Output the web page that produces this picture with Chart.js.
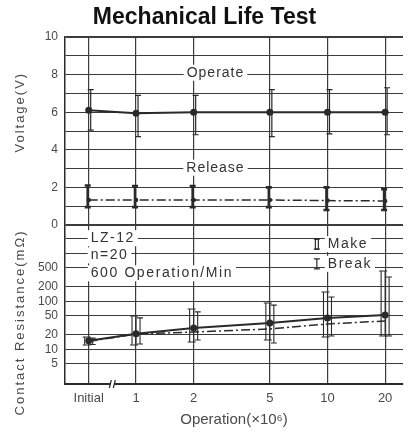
<!DOCTYPE html>
<html>
<head>
<meta charset="utf-8">
<title>Mechanical Life Test</title>
<script src="https://cdn.jsdelivr.net/npm/chart.js@4.4.0/dist/chart.umd.min.js"></script>
<style>
  body { margin: 0; background: #fff; }
  #chart { display: block; }
</style>
</head>
<body>
<canvas id="chart" width="409" height="434"></canvas>
<script>
// operations (x10^6) - "Initial" sits a bit left of 1 on the log axis
const opLabels = ['Initial', '1', '2', '5', '10', '20'];
const opValues = [0.566, 1, 2, 5, 10, 20];
const breakAt = 0.752;

// voltage (V)
const operateV = [6.1, 5.95, 6.0, 6.0, 6.0, 6.0];
const operateLow = [5.05, 4.7, 4.8, 4.7, 4.85, 4.8];
const operateHigh = [7.2, 6.9, 6.9, 7.2, 7.2, 7.3];
const releaseV = [1.33, 1.33, 1.33, 1.33, 1.3, 1.28];
const releaseLow = [0.95, 0.95, 0.95, 0.95, 0.8, 0.8];
const releaseHigh = [2.1, 2.07, 2.07, 2.0, 2.0, 1.9];

// contact resistance (mOhm)
const makeR = [15, 21, 27.7, 35, 44.7, 51.6];
const makeLow = [12.2, 12.2, 14.1, 15.5, 17.9, 18.8];
const makeHigh = [17.9, 49, 69, 92, 155, 426];
const breakR = [14.5, 20.7, 22.8, 26.4, 33.5, 38.7];
const breakLow = [12.5, 12.8, 15.5, 13.5, 18.8, 18.8];
const breakHigh = [17, 45, 60, 83, 122, 320];

// tick values and their labels (blank = grid line only)
const voltTicks = [0, 1, 2, 3, 4, 5, 6, 7, 8, 9, 10];
const voltText = ['0', '', '2', '', '4', '', '6', '', '8', '', '10'];
const resTicks = [5, 10, 20, 50, 100, 200, 500, 1000, 2000];
const resText = ['5', '10', '20', '50', '100', '200', '500', '', ''];

const ink = '#2a2a2a';
const gridInk = '#3c3c3c';
const textInk = '#4a4a4a';
const font = '"Liberation Sans", Arial, sans-serif';
const dashDot = [9, 3, 2, 3];

function pts(vals) {
  return vals.map((v, i) => ({ x: opValues[i], y: v }));
}

const data = {
  datasets: [
    { label: 'Operate', data: pts(operateV), yAxisID: 'yV', borderColor: ink, backgroundColor: ink,
      borderWidth: 2, pointRadius: 2.5,
      err: { low: operateLow, high: operateHigh, width: 1.2, cap: 3, shift: 2 } },
    { label: 'Release', data: pts(releaseV), yAxisID: 'yV', borderColor: ink, backgroundColor: ink,
      borderWidth: 1.5, borderDash: dashDot, pointRadius: 1.5,
      err: { low: releaseLow, high: releaseHigh, width: 2.6, cap: 3, shift: -1 } },
    { label: 'Make', data: pts(makeR), yAxisID: 'yR', borderColor: ink, backgroundColor: ink,
      borderWidth: 2, pointRadius: 2.5,
      err: { low: makeLow, high: makeHigh, width: 1.1, cap: 4, box: 4, shift: -2 } },
    { label: 'Break', data: pts(breakR), yAxisID: 'yR', borderColor: ink, backgroundColor: ink,
      borderWidth: 1.5, borderDash: dashDot, pointRadius: 0,
      err: { low: breakLow, high: breakHigh, width: 1.1, cap: 3, shift: 4 } }
  ]
};

// error bars, read through the scales
const errorBars = {
  id: 'errorBars',
  afterDatasetsDraw(chart) {
    const ctx = chart.ctx;
    const xs = chart.scales.x;
    chart.data.datasets.forEach(ds => {
      const e = ds.err;
      if (!e) return;
      const ys = chart.scales[ds.yAxisID];
      ctx.save();
      ctx.strokeStyle = ink;
      ctx.lineWidth = e.width;
      opValues.forEach((v, j) => {
        const px = xs.getPixelForValue(v) + e.shift;
        const top = ys.getPixelForValue(e.high[j]);
        const bot = ys.getPixelForValue(e.low[j]);
        ctx.beginPath();
        if (e.box) {
          ctx.rect(px - e.box / 2, top, e.box, bot - top);
        } else {
          ctx.moveTo(px, top);
          ctx.lineTo(px, bot);
        }
        ctx.moveTo(px - e.cap, top);
        ctx.lineTo(px + e.cap, top);
        ctx.moveTo(px - e.cap, bot);
        ctx.lineTo(px + e.cap, bot);
        ctx.stroke();
      });
      ctx.restore();
    });
  }
};

function label(ctx, text, x, y, align, size, spacing) {
  ctx.font = size + 'px ' + font;
  ctx.letterSpacing = spacing + 'px';
  ctx.textAlign = align;
  ctx.textBaseline = 'middle';
  const w = ctx.measureText(text).width;
  const left = align === 'center' ? x - w / 2 : x;
  ctx.fillStyle = '#fff';
  ctx.fillRect(left - 3, y - size / 2 - 1, w + 6, size + 2);
  ctx.fillStyle = '#333';
  ctx.fillText(text, x, y);
}

const notes = {
  id: 'notes',
  afterDatasetsDraw(chart) {
    const ctx = chart.ctx;
    const xs = chart.scales.x;
    const yV = chart.scales.yV;
    const yR = chart.scales.yR;
    ctx.save();
    label(ctx, 'Operate', xs.getPixelForValue(2.6), yV.getPixelForValue(8.1), 'center', 14, 1);
    label(ctx, 'Release', xs.getPixelForValue(2.6), yV.getPixelForValue(3.05), 'center', 14, 1);
    const lx = xs.getPixelForValue(0.58);
    label(ctx, 'LZ-12', lx, yR.getPixelForValue(2050), 'left', 14, 1.5);
    label(ctx, 'n=20', lx, yR.getPixelForValue(900), 'left', 14, 1.5);
    label(ctx, '600 Operation/Min', lx, yR.getPixelForValue(380), 'left', 14, 1.6);
    const kx = xs.getPixelForValue(8.8);
    const makeY = yR.getPixelForValue(1550);
    const breakY = yR.getPixelForValue(600);
    label(ctx, 'Make', kx + 11, makeY, 'left', 14, 1.5);
    label(ctx, 'Break', kx + 11, breakY, 'left', 14, 1.5);
    // legend marks
    ctx.strokeStyle = ink;
    ctx.lineWidth = 1.2;
    ctx.strokeRect(kx - 1.5, makeY - 5, 3, 10);
    ctx.beginPath();
    ctx.moveTo(kx - 3, makeY - 5); ctx.lineTo(kx + 3, makeY - 5);
    ctx.moveTo(kx - 3, makeY + 5); ctx.lineTo(kx + 3, makeY + 5);
    ctx.moveTo(kx, breakY - 5); ctx.lineTo(kx, breakY + 5);
    ctx.moveTo(kx - 3, breakY - 5); ctx.lineTo(kx + 3, breakY - 5);
    ctx.moveTo(kx - 3, breakY + 5); ctx.lineTo(kx + 3, breakY + 5);
    ctx.stroke();
    // axis break mark
    const bx = xs.getPixelForValue(breakAt);
    const by = chart.chartArea.bottom;
    ctx.fillStyle = '#fff';
    ctx.fillRect(bx - 2, by - 2, 4, 4);
    ctx.lineWidth = 1.2;
    ctx.beginPath();
    ctx.moveTo(bx - 3, by + 4); ctx.lineTo(bx - 1, by - 4);
    ctx.moveTo(bx + 1, by + 4); ctx.lineTo(bx + 3, by - 4);
    ctx.stroke();
    // axis titles
    ctx.fillStyle = textInk;
    ctx.font = '13px ' + font;
    ctx.letterSpacing = '2px';
    ctx.textAlign = 'center';
    ctx.textBaseline = 'middle';
    [['Voltage(V)', yV.getPixelForValue(6.0)], ['Contact Resistance(m\u03A9)', yR.getPixelForValue(36)]].forEach(t => {
      ctx.save();
      ctx.translate(20, t[1]);
      ctx.rotate(-Math.PI / 2);
      ctx.fillText(t[0], 0, 0);
      ctx.restore();
    });
    ctx.restore();
  }
};

const ctx = document.getElementById('chart').getContext('2d');
new Chart(ctx, {
  type: 'line',
  data: data,
  plugins: [errorBars, notes],
  options: {
    responsive: false,
    animation: false,
    layout: { padding: 0 },
    plugins: {
      legend: { display: false },
      tooltip: { enabled: false },
      title: {
        display: true,
        text: 'Mechanical Life Test',
        color: '#111',
        font: { family: font, size: 23, weight: 'bold' },
        padding: { top: 3.5, bottom: 5.9 }
      }
    },
    scales: {
      x: {
        type: 'logarithmic',
        min: 0.4256,
        max: 24.8,
        afterBuildTicks: s => { s.ticks = opValues.map(v => ({ value: v })); },
        afterFit: s => { s.height = 50; },
        ticks: { color: textInk, font: { family: font, size: 13 }, padding: 7, autoSkip: false, maxRotation: 0,
                 callback: (v, i) => opLabels[i] },
        grid: { color: gridInk, lineWidth: 1.2, drawTicks: false },
        border: { color: ink, width: 2 },
        title: { display: true, text: 'Operation(\u00D710\u2076)', color: textInk,
                 font: { family: font, size: 15 }, padding: { bottom: 5 } }
      },
      // stacked on the left: the first one defined ends up at the bottom
      yR: {
        type: 'logarithmic',
        position: 'left',
        stack: 'left',
        stackWeight: 7.856,
        min: 1.884,
        max: 2250,
        afterBuildTicks: s => { s.ticks = resTicks.map(v => ({ value: v })); },
        afterFit: s => { s.width = 65; },
        ticks: { color: textInk, font: { family: font, size: 12 }, padding: 7, autoSkip: false,
                 callback: (v, i) => resText[i] },
        grid: { color: gridInk, lineWidth: 1, drawTicks: false },
        border: { color: ink, width: 1.5 }
      },
      yV: {
        type: 'linear',
        position: 'left',
        stack: 'left',
        stackWeight: 10.6,
        min: -0.6,
        max: 10,
        afterBuildTicks: s => { s.ticks = voltTicks.map(v => ({ value: v })); },
        afterFit: s => { s.width = 65; },
        ticks: { color: textInk, font: { family: font, size: 12 }, padding: 7, autoSkip: false,
                 callback: (v, i) => voltText[i] },
        grid: { color: gridInk, drawTicks: false,
                lineWidth: c => (c.tick && (c.tick.value === 0 || c.tick.value === 10)) ? 2 : 1 },
        border: { color: ink, width: 1.5 }
      }
    }
  }
});
</script>
</body>
</html>
